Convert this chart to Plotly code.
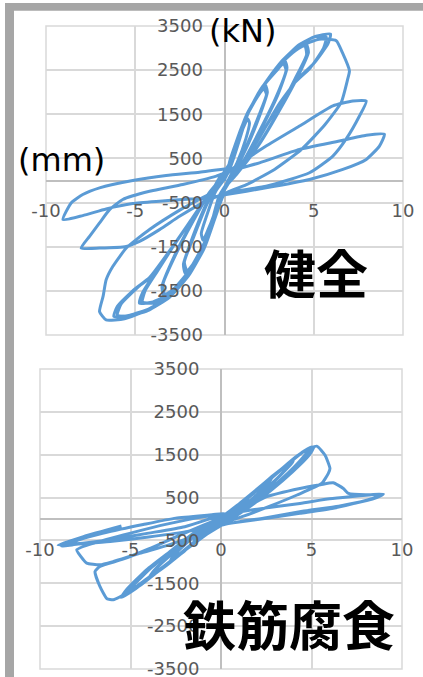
import plotly.graph_objects as go

# ---------------- data (displacement mm, load kN) ----------------
top_disp = [0, 0.4, 0.9, 1.3, 1.4, 1.2, 0.7, 0.2, -0.3, -0.8, -1.2, -1.3, -1.0, -0.5, 0.1,
            0.3, 1.0, 1.7, 2.3, 2.4, 2.0, 1.3, 0.5, -0.3, -0.9, -1.6, -2.2, -2.3, -1.8, -1.1, -0.3,
            0.2, 0.9, 1.6, 2.2, 2.35, 1.9, 1.2, 0.4, -0.3, -0.85, -1.5, -2.1, -2.25, -1.7, -1.0, -0.2,
            0.3, 1.1, 2.0, 2.8, 3.4, 3.5, 3.0, 2.1, 1.1, 0.2, -0.3, -1.0, -1.9, -2.8, -3.4, -3.5, -2.8, -1.9, -0.9, 0.1,
            0.3, 1.15, 2.1, 2.9, 3.3, 3.45, 2.9, 2.0, 1.0, 0.15, -0.35, -1.05, -2.0, -2.9, -3.35, -3.45, -2.7, -1.8, -0.8, 0.15,
            0.35, 1.2, 2.1, 3.0, 4.0, 4.6, 4.7, 4.1, 3.1, 2.0, 0.8, 0.1, -0.3, -1.1, -2.0, -3.0, -4.0, -4.76, -4.6, -3.9, -2.9, -1.8, -0.7, 0.3,
            0.4, 1.25, 2.2, 3.1, 4.0, 4.5, 4.6, 3.95, 3.0, 1.9, 0.7, 0.05, -0.35, -1.15, -2.1, -3.1, -4.0, -4.6, -4.45, -3.75, -2.8, -1.7, -0.6, 0.3,
            1.3, 2.2, 3.1, 4.1, 5.0, 5.94, 5.8, 5.0, 4.1, 3.0, 2.0, 1.0, 0.0, -0.3, -1.1, -2.0, -3.0, -4.2, -5.3, -6.2, -6.0, -5.0, -4.2, -3.0, -1.8, -0.6, 0.3,
            0.35, 1.35, 2.3, 3.2, 4.2, 5.1, 5.7, 5.55, 4.8, 3.9, 2.9, 1.9, 0.9, 0.0, -0.35, -1.15, -2.1, -3.1, -4.3, -5.4, -6.0, -5.8, -4.8, -4.0, -2.9, -1.7, -0.5, 0.3,
            1.3, 2.3, 3.3, 4.3, 5.3, 6.26, 6.6, 7.0, 6.9, 6.54, 5.6, 4.3, 2.8, 1.2, 0.0, -0.4, -1.1, -2.1, -3.2, -4.4, -5.6, -6.63, -7.0, -6.8, -6.63, -6.26, -5.5, -4.2, -2.3, -0.46, 0.29,
            2.33, 4.2, 6.07, 7.19, 7.94, 7.56, 6.8, 6.07, 4.76, 2.33, 0.09, -1.4, -2.52, -3.64, -4.76, -5.5, -7.0, -8.03, -7.56, -7.0, -6.44, -5.7, -4.2, -2.34, -0.46, 0.29,
            1.96, 4.2, 6.44, 7.94, 8.96, 8.68, 7.94, 6.63, 4.76, 2.33, 0.1, -1.0, -2.34, -3.64, -5.14, -6.63, -7.94, -9.05, -8.59, -7.94, -7.0, -5.14, -3.27, -1.4, 0.09]
top_load = [0, 550, 1050, 1400, 1300, 950, 400, 0, -450, -1000, -1350, -1200, -800, -250, 100,
            450, 1250, 1800, 2150, 2000, 1500, 800, 150, -400, -1200, -1800, -2100, -1900, -1300, -600, 50,
            300, 1150, 1750, 2080, 1950, 1450, 750, 100, -350, -1150, -1750, -2050, -1850, -1250, -550, 80,
            400, 1350, 2050, 2450, 2700, 2550, 1950, 1200, 450, -80, -450, -1300, -2000, -2450, -2600, -2400, -1700, -1000, -300, 200,
            420, 1400, 2100, 2480, 2650, 2500, 1900, 1150, 400, -60, -500, -1350, -2050, -2480, -2580, -2350, -1650, -950, -250, 220,
            500, 1450, 2100, 2600, 2950, 3080, 2900, 2350, 1600, 850, 200, -120, -500, -1450, -2100, -2550, -2750, -2780, -2550, -2100, -1500, -850, -200, 300,
            550, 1500, 2150, 2650, 2980, 3050, 2850, 2300, 1550, 800, 150, -150, -550, -1500, -2150, -2600, -2780, -2750, -2500, -2050, -1450, -800, -150, 280,
            1500, 2150, 2650, 3050, 3250, 3318, 3100, 2650, 2300, 1700, 1000, 380, -150, -500, -1500, -2150, -2600, -2900, -3050, -3080, -2850, -2450, -2200, -1550, -850, -150, 300,
            480, 1550, 2200, 2700, 3080, 3260, 3250, 3000, 2550, 2200, 1600, 950, 330, -170, -550, -1550, -2200, -2650, -2950, -3080, -3050, -2800, -2400, -2150, -1500, -800, -120, 280,
            1500, 2200, 2700, 3050, 3200, 3166, 2900, 2485, 2295, 1770, 1250, 700, 250, -100, -300, -700, -1500, -2150, -2650, -2950, -3130, -3160, -2970, -2620, -2250, -1950, -1530, -1110, -620, -205, 212,
            780, 1234, 1690, 1800, 1800, 1460, 930, 553, 175, -130, -280, -545, -811, -1113, -1379, -1493, -1530, -1530, -1265, -960, -660, -430, -243, -90, 98, 212,
            400, 705, 893, 1023, 1045, 780, 477, 250, 23, -166, -318, -400, -430, -470, -523, -644, -795, -886, -508, -318, -166, 0, 114, 189, 265]

bot_disp = [0, 0.7, 1.5, 1.3, 0.7, 0.1, -0.6, -1.5, -1.3, -0.7, 0,
            0.6, 1.6, 2.8, 2.6, 1.8, 0.8, 0, -0.9, -1.9, -2.8, -2.6, -1.8, -0.8, 0.1,
            0.8, 1.9, 3.0, 4.0, 3.7, 2.8, 1.6, 0.4, 0, -1.0, -2.1, -3.1, -4.0, -3.7, -2.7, -1.5, -0.3, 0.2,
            0.7, 1.8, 2.9, 3.8, 3.55, 2.7, 1.5, 0.35, -0.05, -1.0, -2.0, -3.0, -3.85, -3.6, -2.6, -1.4, -0.25, 0.2,
            1.0, 2.1, 3.3, 4.3, 5.01, 4.7, 3.8, 2.6, 1.3, 0.1, -1.2, -2.4, -3.6, -4.6, -5.3, -5.0, -3.9, -2.6, -1.2, 0.2,
            0.9, 2.0, 3.2, 4.2, 4.9, 4.6, 3.7, 2.5, 1.2, 0.05, -1.15, -2.3, -3.5, -4.5, -5.2, -4.9, -3.8, -2.5, -1.1, 0.2,
            1.2, 2.4, 3.6, 4.5, 5.15, 4.85, 3.95, 2.8, 1.5, 0.2, -1.1, -2.3, -3.5, -4.7, -5.5, -5.2, -4.1, -2.7, -1.3, 0.2,
            1.3, 2.5, 3.7, 4.6, 5.29, 5.75, 6.02, 5.93, 5.56, 4.2, 2.7, 1.2, 0.2, -1.0, -2.2, -3.4, -4.6, -5.6, -5.95, -6.3, -6.69, -6.96, -6.69, -5.5, -4.0, -2.5, -1.0, 0.3,
            1.5, 2.52, 4.36, 5.5, 6.2, 6.76, 7.04, 8.0, 8.97, 8.6, 8.05, 6.5, 4.5, 2.5, 0.7, 0, -1.5, -3.0, -4.5, -6.0, -6.69, -7.42, -7.6, -7.97, -7.0, -5.0, -3.0, -1.0, 0.3,
            2.0, 4.36, 6.0, 7.13, 8.2, 8.97, 8.6, 8.05, 6.2, 4.36, 2.52, 0.68, 0, -2.0, -4.0, -6.0, -8.0, -8.8, -7.8, -6.2, -4.3, -2.5, -0.5, 0.2,
            -2.0, -4.0, -6.0, -8.0, -9.0, -7.6, -5.5]
bot_load = [0, 220, 470, 380, 150, -30, -200, -500, -400, -180, 30,
            170, 540, 950, 830, 500, 150, -80, -330, -680, -980, -850, -520, -170, 60,
            250, 640, 1050, 1350, 1200, 820, 400, 0, -120, -380, -760, -1100, -1380, -1200, -800, -400, 0, 90,
            230, 620, 1020, 1300, 1150, 790, 380, -10, -130, -400, -740, -1080, -1330, -1170, -780, -380, 10, 100,
            330, 720, 1150, 1500, 1682, 1500, 1100, 650, 250, -100, -450, -850, -1250, -1580, -1780, -1600, -1150, -700, -250, 100,
            320, 700, 1120, 1470, 1650, 1470, 1070, 630, 230, -110, -460, -830, -1230, -1560, -1750, -1570, -1120, -680, -230, 100,
            400, 830, 1250, 1560, 1690, 1480, 1100, 680, 260, -100, -440, -830, -1230, -1620, -1830, -1640, -1180, -720, -260, 90,
            420, 850, 1280, 1580, 1700, 1488, 1178, 1065, 830, 560, 300, 60, -80, -420, -800, -1180, -1550, -1820, -1884, -1860, -1574, -1225, -1109, -950, -700, -420, -150, 80,
            300, 520, 713, 800, 845, 713, 597, 565, 580, 500, 430, 300, 180, 30, -85, -150, -400, -620, -800, -1000, -1070, -1031, -953, -721, -560, -330, -120, 50, 120,
            230, 364, 470, 520, 560, 580, 510, 440, 248, 132, 15, -85, -130, -300, -420, -520, -590, -640, -480, -300, -130, 20, 100, 130,
            -180, -330, -470, -580, -605, -411, -163]

x_ticks = [-10, -5, 0, 5, 10]
x_ticktext = ["-10", "-5", "0", "5", "10"]
y_ticks = [-3500, -2500, -1500, -500, 500, 1500, 2500, 3500]
y_ticktext = ["-3500", "-2500", "-1500", "-500", "500", "1500", "2500", "3500"]

W, H = 423, 677
LINE = "#5b9bd5"
GRID = "#d9d9d9"
TICKFONT = dict(family="DejaVu Sans", size=18, color="#595959")

fig = go.Figure()
fig.add_trace(go.Scatter(x=top_disp, y=top_load, mode="lines",
                         line=dict(color=LINE, width=3, shape="spline", smoothing=0.5),
                         xaxis="x", yaxis="y", showlegend=False, hoverinfo="skip"))
fig.add_trace(go.Scatter(x=bot_disp, y=bot_load, mode="lines",
                         line=dict(color=LINE, width=3, shape="spline", smoothing=0.5),
                         xaxis="x2", yaxis="y2", showlegend=False, hoverinfo="skip"))


def xax(dom, pos):
    return dict(domain=dom, range=[-10, 10], anchor="free", position=pos,
                tickvals=x_ticks, ticktext=x_ticktext, tickfont=TICKFONT,
                showgrid=True, gridcolor=GRID, gridwidth=1.5,
                zeroline=True, zerolinecolor="#bfbfbf", zerolinewidth=1.5,
                showline=False, ticks="outside", ticklen=14, automargin=False,
                ticklabeloverflow="allow",
                tickcolor="rgba(0,0,0,0)", fixedrange=True)


def yax(dom, pos):
    return dict(domain=dom, range=[-3500, 3500], anchor="free", position=pos,
                tickvals=y_ticks, ticktext=y_ticktext, tickfont=TICKFONT,
                showgrid=True, gridcolor=GRID, gridwidth=1.5,
                zeroline=True, zerolinecolor="#bfbfbf", zerolinewidth=1.5,
                showline=False, ticks="outside", ticklen=18, automargin=False,
                ticklabeloverflow="allow",
                tickcolor="rgba(0,0,0,0)", fixedrange=True)


top_xdom = [46 / W, 403 / W]
top_ydom = [1 - 335 / H, 1 - 26 / H]
bot_xdom = [40 / W, 402 / W]
bot_ydom = [1 - 669 / H, 1 - 369 / H]

top_x0 = (top_xdom[0] + top_xdom[1]) / 2
top_y0 = (top_ydom[0] + top_ydom[1]) / 2
bot_x0 = (bot_xdom[0] + bot_xdom[1]) / 2
bot_y0 = (bot_ydom[0] + bot_ydom[1]) / 2

fig.update_layout(
    width=W, height=H, autosize=False,
    margin=dict(l=0, r=0, t=0, b=0, pad=0, autoexpand=False),
    paper_bgcolor="white", plot_bgcolor="white",
    xaxis=xax(top_xdom, top_y0),
    yaxis=yax(top_ydom, top_x0),
    xaxis2=xax(bot_xdom, bot_y0),
    yaxis2=yax(bot_ydom, bot_x0),
    shapes=[
        dict(type="rect", xref="paper", yref="paper", x0=5 / W, x1=1.0,
             y0=1 - 10.7 / H, y1=1 - 3 / H, fillcolor="#a6a6a6", line=dict(width=0), layer="above"),
        dict(type="rect", xref="paper", yref="paper", x0=5 / W, x1=14 / W,
             y0=0, y1=1 - 3 / H, fillcolor="#a6a6a6", line=dict(width=0), layer="above"),
        dict(type="rect", xref="x domain", yref="y domain", x0=0, x1=1, y0=0, y1=1,
             line=dict(color=GRID, width=1.5), layer="below"),
        dict(type="rect", xref="x2 domain", yref="y2 domain", x0=0, x1=1, y0=0, y1=1,
             line=dict(color=GRID, width=1.5), layer="below"),
    ],
    annotations=[
        dict(text="(kN)", xref="paper", yref="paper", x=242 / W, y=1 - 31 / H,
             showarrow=False, xanchor="center", yanchor="middle",
             font=dict(family="DejaVu Sans", size=32, color="black")),
        dict(text="(mm)", xref="paper", yref="paper", x=62 / W, y=1 - 160 / H,
             showarrow=False, xanchor="center", yanchor="middle",
             font=dict(family="DejaVu Sans", size=32, color="black")),
        dict(text="<b>健全</b>", xref="paper", yref="paper", x=316 / W, y=1 - 271 / H,
             showarrow=False, xanchor="center", yanchor="middle",
             font=dict(family="Noto Sans CJK JP", size=52, color="black")),
        dict(text="<b>鉄筋腐食</b>", xref="paper", yref="paper", x=289 / W, y=1 - 623 / H,
             showarrow=False, xanchor="center", yanchor="middle",
             font=dict(family="Noto Sans CJK JP", size=53, color="black")),
    ],
)

fig.write_html("out.html")
